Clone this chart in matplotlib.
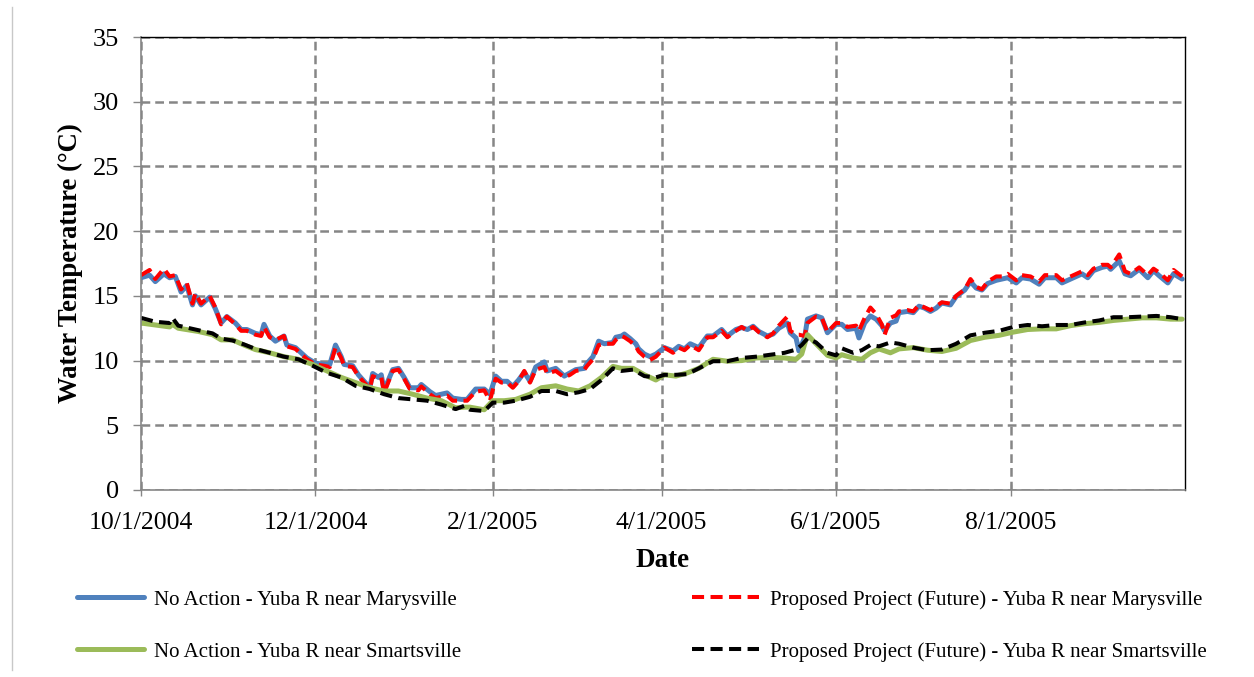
import numpy as np
import matplotlib
matplotlib.use("Agg")
import matplotlib.pyplot as plt
from matplotlib.lines import Line2D

plt.rcParams['font.family'] = ['Liberation Serif', 'DejaVu Serif']

# days after 10/1/2004, Yuba R near Marysville
days_mv = [0, 3, 5, 8, 10, 12, 14, 16, 18, 19, 21, 24, 26, 28, 30, 33, 35, 37, 40, 42,
           43, 45, 47, 50, 51, 54, 56, 58, 61, 64, 66, 68, 70, 71, 74, 76, 78, 80, 81, 83,
           84, 85, 88, 90, 92, 94, 97, 98, 101, 103, 107, 109, 112, 114, 117, 120, 122, 124, 126, 128,
           130, 132, 134, 136, 138, 141, 142, 145, 148, 150, 152, 155, 156, 158, 160, 162, 165, 166, 168, 169,
           171, 173, 174, 176, 178, 180, 183, 186, 188, 190, 192, 195, 198, 200, 203, 205, 208, 210, 212, 214,
           216, 219, 221, 223, 226, 227, 229, 230, 232, 233, 236, 238, 240, 243, 245, 247, 250, 251, 253, 255,
           257, 259, 260, 262, 264, 265, 268, 270, 272, 274, 276, 278, 280, 283, 285, 288, 290, 292, 294, 296,
           299, 301, 303, 306, 308, 311, 314, 316, 320, 322, 325, 329, 331, 333, 336, 338, 339, 342, 344, 346,
           349, 352, 354, 356, 359, 361, 364]

na_marysville = [16.4, 16.6, 16.1, 16.7, 16.4, 16.5, 15.3, 15.8, 14.3, 15.0, 14.3, 14.9, 14.0, 12.9, 13.4, 12.9, 12.4, 12.4, 12.1, 12.0,
                 12.8, 11.9, 11.5, 11.9, 11.2, 11.0, 10.6, 10.2, 9.8, 9.7, 9.7, 11.2, 10.3, 9.7, 9.6, 8.9, 8.4, 7.9, 9.0, 8.7,
                 8.9, 7.7, 9.3, 9.4, 8.7, 7.9, 7.9, 8.15, 7.6, 7.3, 7.5, 7.1, 7.0, 7.0, 7.8, 7.8, 7.4, 8.8, 8.4, 8.4,
                 8.0, 8.5, 9.1, 8.4, 9.5, 9.9, 9.2, 9.4, 8.8, 9.05, 9.3, 9.4, 9.8, 10.3, 11.5, 11.3, 11.4, 11.8, 11.9, 12.05,
                 11.7, 11.3, 10.9, 10.5, 10.3, 10.5, 11.0, 10.75, 11.1, 10.9, 11.3, 11.0, 11.9, 11.9, 12.4, 11.9, 12.4, 12.55, 12.4, 12.65,
                 12.25, 11.9, 12.05, 12.5, 12.9, 12.15, 11.75, 10.75, 11.75, 13.2, 13.45, 13.3, 12.15, 12.8, 12.8, 12.4, 12.5, 11.75, 12.9, 13.45,
                 13.2, 12.7, 12.3, 12.9, 13.05, 13.7, 13.8, 13.7, 14.2, 14.05, 13.8, 14.05, 14.45, 14.3, 14.95, 15.45, 16.1, 15.6, 15.45, 15.95,
                 16.2, 16.3, 16.4, 16.0, 16.4, 16.3, 15.9, 16.4, 16.4, 16.0, 16.3, 16.7, 16.4, 16.95, 17.2, 17.3, 17.05, 17.7, 16.7, 16.55,
                 17.05, 16.4, 16.95, 16.55, 16.0, 16.7, 16.3]

pp_marysville = [16.6, 17.0, 16.3, 17.1, 16.5, 16.6, 15.5, 16.0, 14.4, 15.2, 14.4, 15.0, 14.1, 12.8, 13.4, 12.8, 12.3, 12.3, 12.0, 11.9,
                 12.6, 11.8, 11.6, 11.9, 11.1, 10.9, 10.5, 10.1, 9.7, 9.6, 9.5, 11.0, 10.2, 9.6, 9.5, 8.8, 8.3, 7.8, 8.8, 8.6,
                 8.7, 7.5, 9.2, 9.3, 8.6, 7.8, 7.7, 8.0, 7.4, 7.1, 7.3, 6.9, 6.9, 6.9, 7.6, 7.7, 6.9, 8.6, 8.3, 8.3,
                 7.9, 8.4, 9.2, 8.3, 9.3, 9.5, 9.0, 9.2, 8.7, 8.9, 9.2, 9.3, 9.6, 10.1, 11.2, 11.3, 11.3, 11.6, 11.9, 11.8,
                 11.5, 11.1, 10.7, 10.3, 10.05, 10.3, 11.0, 10.6, 11.0, 10.8, 11.2, 10.8, 11.8, 11.8, 12.3, 11.8, 12.3, 12.6, 12.3, 12.6,
                 12.2, 11.8, 12.1, 12.7, 13.4, 12.3, 12.0, 12.0, 11.9, 12.9, 13.4, 13.3, 12.2, 12.9, 12.9, 12.6, 12.7, 12.3, 13.3, 14.1,
                 13.6, 12.8, 12.0, 13.3, 13.5, 13.8, 13.9, 13.8, 14.3, 14.1, 13.9, 14.2, 14.5, 14.4, 15.0, 15.5, 16.3, 15.7, 15.5, 16.1,
                 16.5, 16.5, 16.7, 16.2, 16.6, 16.5, 16.1, 16.6, 16.6, 16.2, 16.5, 16.9, 16.6, 17.1, 17.4, 17.4, 17.2, 18.2, 16.9, 16.7,
                 17.2, 16.6, 17.1, 16.8, 16.2, 17.0, 16.5]

# days after 10/1/2004, Yuba R near Smartsville
days_sv = [0, 5, 10, 11, 13, 20, 25, 28, 32, 36, 40, 45, 50, 55, 60, 65, 70, 75, 80, 85,
           90, 95, 100, 105, 110, 113, 115, 120, 123, 127, 131, 136, 140, 145, 149, 153, 157, 161, 165, 168,
           172, 176, 180, 183, 187, 191, 195, 200, 205, 210, 215, 220, 225, 229, 231, 233, 236, 240, 243, 245,
           249, 252, 255, 258, 262, 265, 270, 275, 280, 285, 290, 295, 300, 305, 310, 315, 320, 325, 330, 335,
           340, 345, 350, 355, 360, 364]

na_smartsville = [12.9, 12.75, 12.6, 12.8, 12.5, 12.25, 12.0, 11.6, 11.6, 11.2, 10.85, 10.6, 10.3, 10.1, 9.7, 9.2, 8.7, 8.3, 7.9, 7.65,
                  7.65, 7.4, 7.1, 6.9, 6.35, 6.4, 6.4, 6.2, 6.9, 6.9, 7.0, 7.4, 7.9, 8.05, 7.8, 7.65, 8.05, 8.7, 9.55, 9.4,
                  9.4, 8.9, 8.5, 8.9, 8.8, 9.05, 9.4, 10.1, 9.95, 10.0, 10.2, 10.25, 10.2, 10.1, 10.5, 12.0, 11.3, 10.4, 10.2, 10.45,
                  10.2, 10.1, 10.6, 10.9, 10.6, 10.9, 11.0, 10.8, 10.7, 10.95, 11.55, 11.8, 11.95, 12.2, 12.4, 12.45, 12.45, 12.7, 12.85, 12.95,
                  13.1, 13.2, 13.3, 13.3, 13.2, 13.2]

pp_smartsville = [13.3, 13.0, 12.9, 13.3, 12.7, 12.35, 12.1, 11.7, 11.55, 11.25, 10.9, 10.6, 10.3, 10.1, 9.6, 9.05, 8.7, 8.05, 7.8, 7.4,
                  7.1, 7.0, 6.9, 6.6, 6.25, 6.5, 6.2, 6.1, 6.75, 6.75, 6.9, 7.2, 7.65, 7.65, 7.4, 7.55, 7.8, 8.5, 9.4, 9.2,
                  9.3, 8.8, 8.7, 8.9, 8.9, 8.95, 9.4, 9.95, 9.95, 10.2, 10.3, 10.45, 10.6, 10.85, 11.2, 11.7, 11.4, 10.6, 10.4, 10.95,
                  10.6, 10.8, 11.2, 11.1, 11.4, 11.3, 11.0, 10.8, 10.85, 11.3, 11.95, 12.15, 12.3, 12.6, 12.75, 12.65, 12.75, 12.75, 12.95, 13.1,
                  13.35, 13.35, 13.4, 13.45, 13.35, 13.2]

tick_dates = ['2004-10-01', '2004-12-01', '2005-02-01', '2005-04-01', '2005-06-01', '2005-08-01']
tick_labels = ['10/1/2004', '12/1/2004', '2/1/2005', '4/1/2005', '6/1/2005', '8/1/2005']
y_ticks = [0, 5, 10, 15, 20, 25, 30, 35]

start = np.datetime64('2004-10-01')
x_mv = start + np.array(days_mv).astype('timedelta64[D]')
x_sv = start + np.array(days_sv).astype('timedelta64[D]')

fig = plt.figure(figsize=(12.54, 6.77), dpi=100)
ax = fig.add_axes([141/1254, 1 - 490/677, (1185 - 141)/1254, (490 - 37)/677])

l1, = ax.plot(x_mv, na_marysville, color='#4F81BD', lw=3.6, solid_capstyle='round',
              label='No Action - Yuba R near Marysville')
l2, = ax.plot(x_mv, pp_marysville, color='#FF0000', lw=2.9, dashes=(3, 1.6),
              label='Proposed Project (Future) - Yuba R near Marysville')
l3, = ax.plot(x_sv, na_smartsville, color='#9BBB59', lw=3.6, solid_capstyle='round',
              label='No Action - Yuba R near Smartsville')
l4, = ax.plot(x_sv, pp_smartsville, color='#000000', lw=2.9, dashes=(3, 1.6),
              label='Proposed Project (Future) - Yuba R near Smartsville')

ax.set_xlim(start, np.datetime64('2005-10-01'))
ax.set_ylim(0, 35)
ax.set_yticks(y_ticks)
ax.set_xticks([np.datetime64(d) for d in tick_dates])
ax.set_xticklabels(tick_labels)
ax.grid(True, color='#868686', lw=1.8, dashes=(3.5, 2))
ax.set_axisbelow(True)

ax.tick_params(axis='y', direction='out', length=6, width=1, color='#868686', pad=10, labelsize=19)
ax.tick_params(axis='x', direction='inout', length=8, width=1, color='#868686', pad=12, labelsize=18.5)
for s in ['left', 'bottom']:
    ax.spines[s].set_color('#868686')
    ax.spines[s].set_linewidth(1.2)
for s in ['top', 'right']:
    ax.spines[s].set_color('#000000')
    ax.spines[s].set_linewidth(1.0)

ax.set_ylabel('Water Temperature (°C)', fontsize=19.3, fontweight='bold', labelpad=7)
ax.set_xlabel('Date', fontsize=19.5, fontweight='bold', labelpad=10)

fig.legend(handles=[l1, l3, l2, l4], loc='upper left', bbox_to_anchor=(77/1254, 1 - 590/677),
           ncol=2, frameon=False, fontsize=15, handlelength=3.2, handletextpad=0.5,
           columnspacing=11.1, labelspacing=1.55, borderpad=0, borderaxespad=0)

# page border on the left
fig.add_artist(Line2D([12/1254, 12/1254], [0.01, 0.99], color='#c8c8c8', lw=1))

fig.savefig('out.png', dpi=100)
